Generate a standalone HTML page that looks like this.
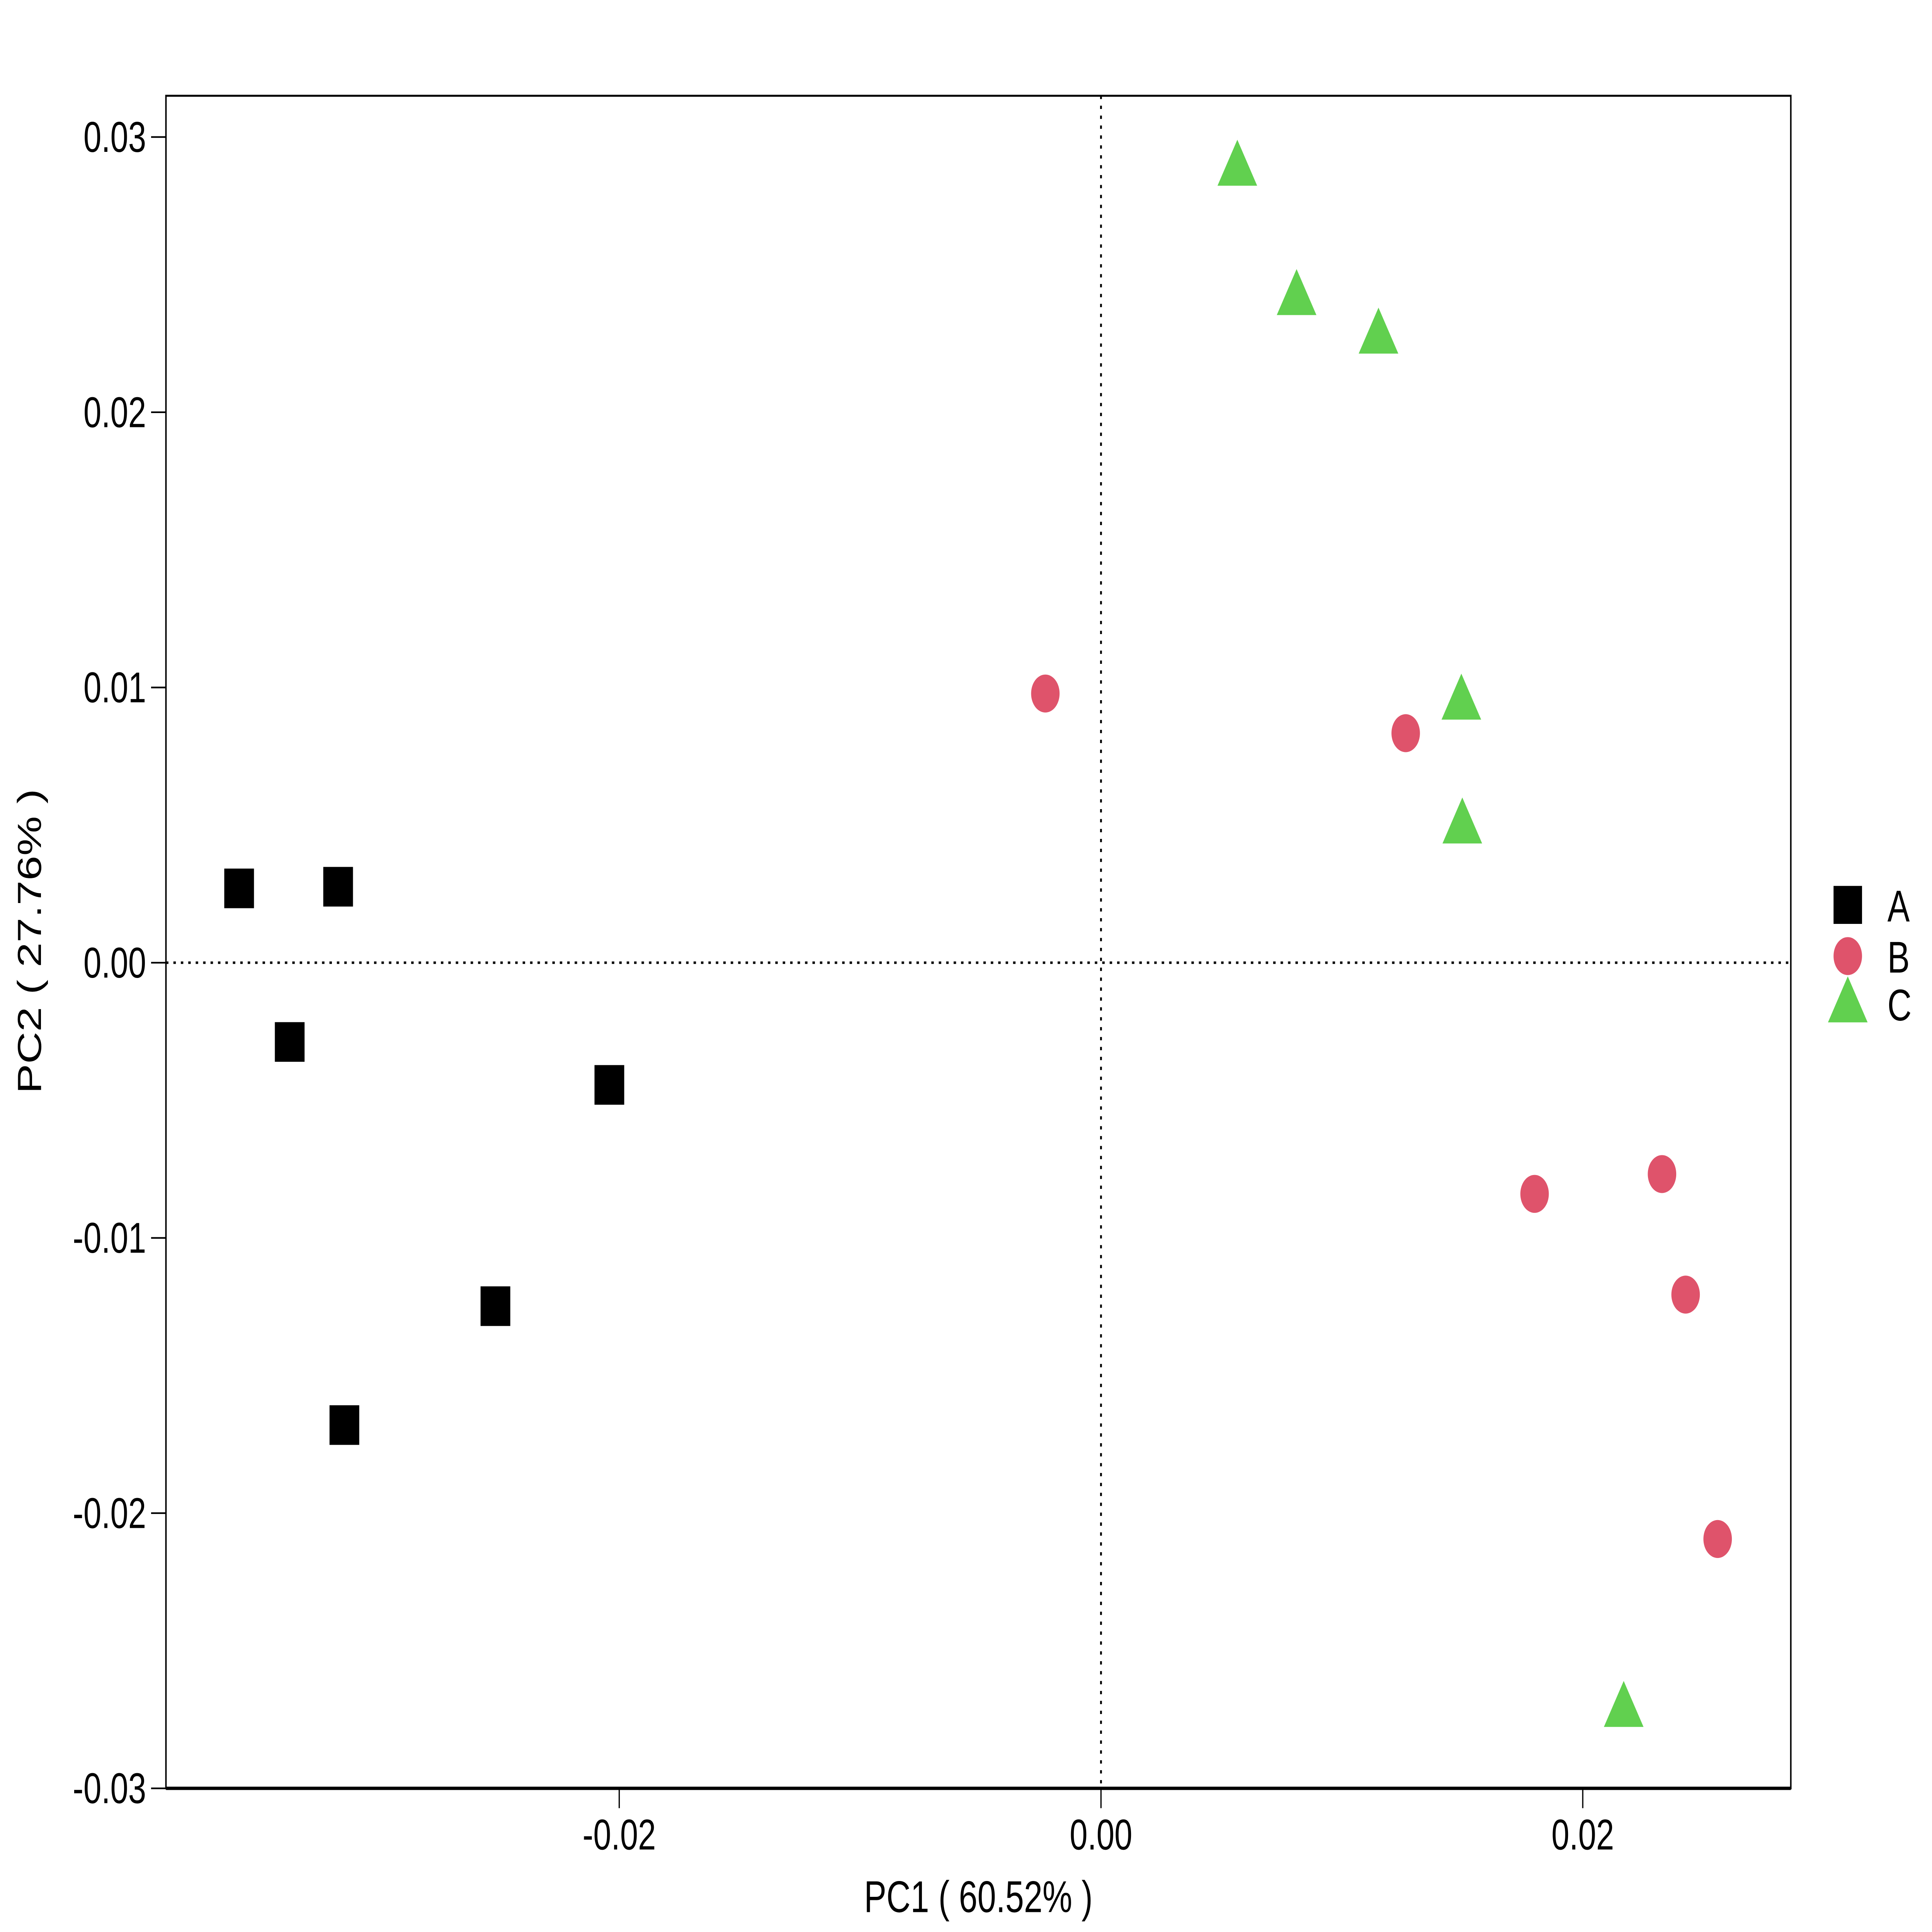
<!DOCTYPE html>
<html><head><meta charset="utf-8"><style>html,body{margin:0;padding:0;background:#fff;width:100%;height:100%;overflow:hidden}svg{display:block;width:100vw;height:100vh}</style></head>
<body>
<svg id="chart" viewBox="0 0 1560 1170" preserveAspectRatio="none" xmlns="http://www.w3.org/2000/svg" font-family="Liberation Sans, sans-serif">
<rect x="0" y="0" width="1560" height="1170" fill="#fff"/>
<g id="plot"></g>
</svg>
<script>
const xTicks = [-0.02, 0.00, 0.02];
const xTickLabels = ["-0.02", "0.00", "0.02"];
const yTicks = [0.03, 0.02, 0.01, 0.00, -0.01, -0.02, -0.03];
const yTickLabels = ["0.03", "0.02", "0.01", "0.00", "-0.01", "-0.02", "-0.03"];
const groupA_x = [-0.03578, -0.03167, -0.03368, -0.02041, -0.02514, -0.03141];
const groupA_y = [0.0027, 0.00276, -0.00288, -0.00444, -0.01248, -0.0168];
const groupB_x = [-0.00231, 0.01265, 0.018, 0.02329, 0.02427, 0.0256];
const groupB_y = [0.00978, 0.00834, -0.0084, -0.00768, -0.01206, -0.02094];
const groupC_x = [0.00566, 0.00812, 0.01152, 0.01496, 0.015, 0.0217];
const groupC_y = [0.0289, 0.0242, 0.0228, 0.0095, 0.005, -0.0271];

const NS = "http://www.w3.org/2000/svg";
const L = 134, R = 1446, T = 58, B = 1083;
function sx(v){ return 889 + v * 19450; }
function sy(v){ return 583 - v * 16667; }
const g = document.getElementById('plot');
function mk(tag, attrs){ const e = document.createElementNS(NS, tag); for (const k in attrs) e.setAttribute(k, attrs[k]); g.appendChild(e); return e; }

let e;
e = mk('rect', {x:L, y:T, width:R-L, height:B-T, fill:'none', stroke:'#000', 'stroke-width':1.2});


e = mk('line', {x1:L, y1:B, x2:R, y2:B, stroke:'#000', 'stroke-width':2});


e = mk('line', {x1:sx(0), y1:T, x2:sx(0), y2:B, stroke:'#000', 'stroke-width':1.5, 'stroke-dasharray':'2,4'});


e = mk('line', {x1:L, y1:sy(0), x2:R, y2:sy(0), stroke:'#000', 'stroke-width':1.5, 'stroke-dasharray':'2,4'});



xTicks.forEach((v,i)=>{
  const x = sx(v);
  let t = mk('line', {x1:x, y1:B, x2:x, y2:B+12, stroke:'#000', 'stroke-width':1});
  
  
  let lb = mk('text', {x:x, y:B+37, 'text-anchor':'middle', 'font-size':26, fill:'#000'});
  lb.textContent = xTickLabels[i];
  
  
});
yTicks.forEach((v,i)=>{
  const y = sy(v);
  let t = mk('line', {x1:L-12, y1:y, x2:L, y2:y, stroke:'#000', 'stroke-width':1});
  
  
  let lb = mk('text', {x:L-16, y:y+9, 'text-anchor':'end', 'font-size':26, fill:'#000'});
  lb.textContent = yTickLabels[i];
  
  
});

e = mk('text', {x:790, y:1158, 'text-anchor':'middle', 'font-size':27, fill:'#000'});
e.textContent = 'PC1 ( 60.52% )';


e = mk('text', {x:0, y:0, 'text-anchor':'middle', 'font-size':27, fill:'#000', transform:'translate(33,570) rotate(-90)'});
e.textContent = 'PC2 ( 27.76% )';



function square(cx, cy, s){ return mk('rect', {x:cx-s/2, y:cy-s/2, width:s, height:s, fill:'#000'}); }
function circle(cx, cy, r){ return mk('circle', {cx:cx, cy:cy, r:r, fill:'#DF536B'}); }
function tri(cx, cy, w){ const h = w*0.87; return mk('polygon', {points:`${cx},${cy-h*0.6} ${cx-w/2},${cy+h*0.4} ${cx+w/2},${cy+h*0.4}`, fill:'#61D04F'}); }

groupA_x.forEach((v,i)=>{ const p = square(sx(v), sy(groupA_y[i]), 24);
  
   });
groupB_x.forEach((v,i)=>{ const p = circle(sx(v), sy(groupB_y[i]), 11.5);
  
   });
groupC_x.forEach((v,i)=>{ const p = tri(sx(v), sy(groupC_y[i]), 32);
  
   });

const legendNames = ["A","B","C"];
const legendY = [548, 579, 608];
legendNames.forEach((n,i)=>{
  let m;
  if (i===0) m = square(1492, legendY[i], 23);
  else if (i===1) m = circle(1492, legendY[i], 11.5);
  else m = tri(1492, legendY[i], 32);
  
  
  let t = mk('text', {x:1524, y:legendY[i]+10, 'font-size':27, fill:'#000'});
  t.textContent = n;
  
  
});
</script>
</body></html>
